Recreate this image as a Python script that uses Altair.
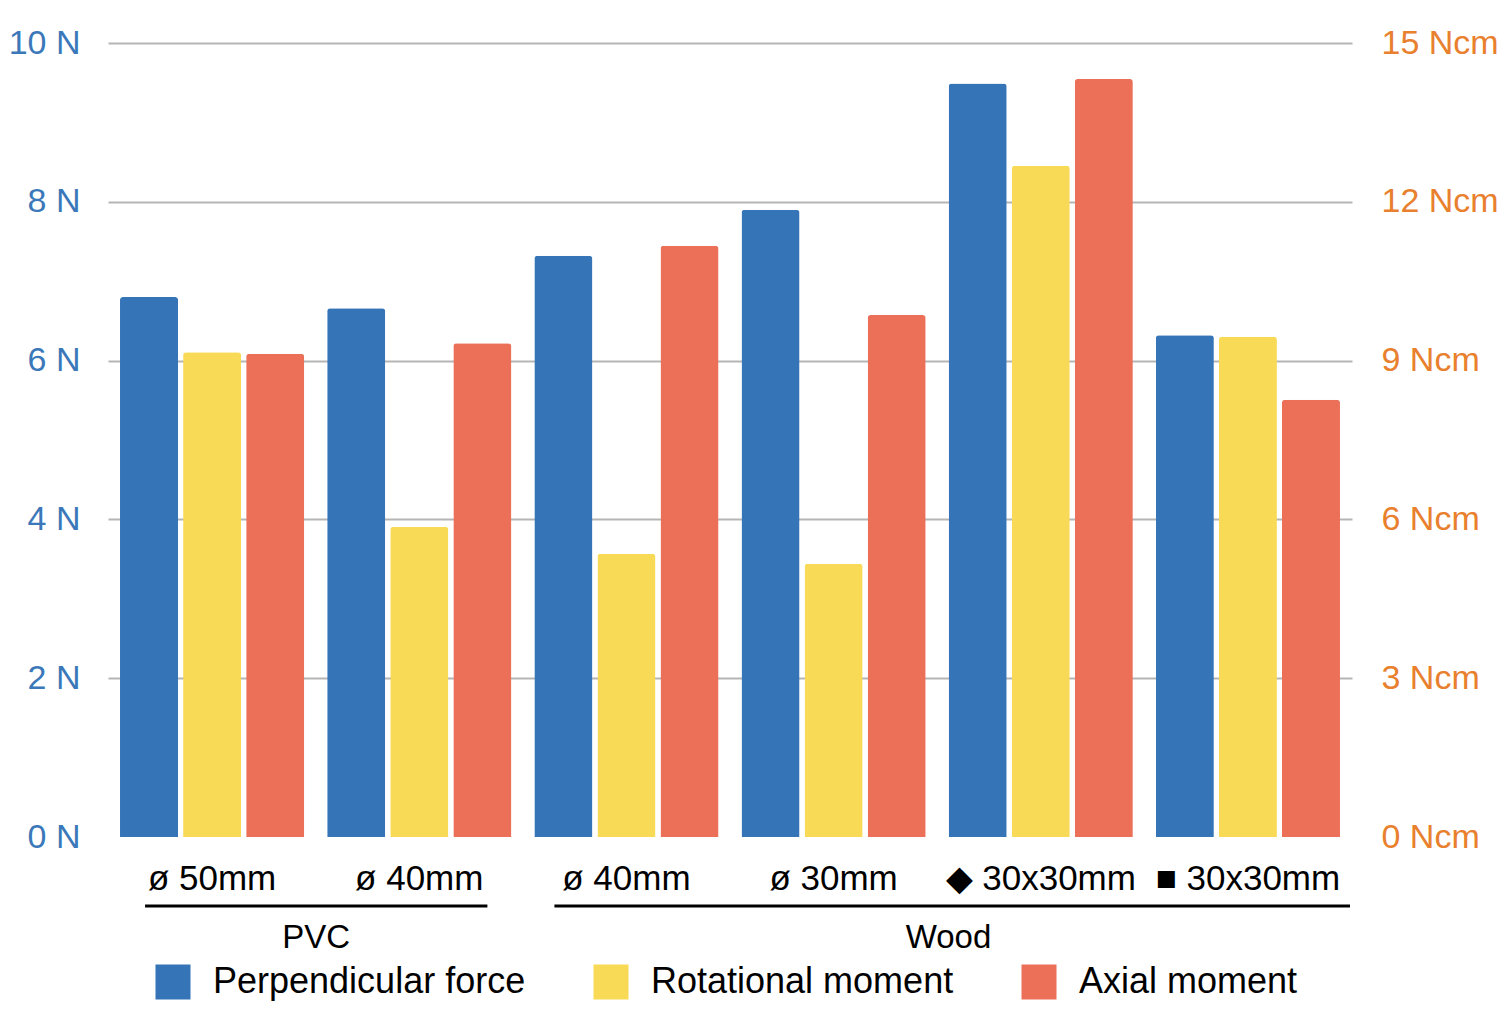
import json
import altair as alt
import pandas as pd

# ---- data ----
categories = ["ø 50mm", "ø 40mm", "ø 40mm", "ø 30mm", "◆ 30x30mm", "■ 30x30mm"]
materials = ["PVC", "PVC", "Wood", "Wood", "Wood", "Wood"]
series = ["Perpendicular force", "Rotational moment", "Axial moment"]
perpendicular_force_N = [6.80, 6.66, 7.32, 7.90, 9.49, 6.32]
rotational_moment_Ncm = [9.16, 5.86, 5.35, 5.16, 12.68, 9.45]
axial_moment_Ncm = [9.13, 9.33, 11.17, 9.86, 14.32, 8.26]
left_ticks = [0, 2, 4, 6, 8, 10]
right_ticks = [0, 3, 6, 9, 12, 15]
group_names = ["PVC", "Wood"]

colors = ["#3474b7", "#f8da56", "#ec6f58"]
left_color = "#3b78b9"
right_color = "#e8802e"
FONT = "Liberation Sans"

keys = [str(i) for i in range(len(categories))]
rows = []
for i, k in enumerate(keys):
    rows.append({"key": k, "series": series[0], "value": perpendicular_force_N[i]})
    rows.append({"key": k, "series": series[1], "value": rotational_moment_Ncm[i]})
    rows.append({"key": k, "series": series[2], "value": axial_moment_Ncm[i]})
df = pd.DataFrame(rows)

label_array = json.dumps(categories, ensure_ascii=False)

W, H = 1244, 794

x_scale = alt.Scale(domain=keys, paddingInner=0.111, paddingOuter=0.058)
x_axis = alt.Axis(
    title=None, domain=False, ticks=False, grid=False,
    labelExpr=f"{label_array}[toNumber(datum.value)]",
    labelFontSize=35, labelColor="black", labelPadding=41,
    labelBaseline="middle", labelAlign="center", labelAngle=0,
    labelOverlap=False, labelLimit=0, labelFont=FONT,
)
xoff_scale = alt.Scale(domain=series, paddingInner=0.08, paddingOuter=0)
color_scale = alt.Scale(domain=series, range=colors)
legend = alt.Legend(
    orient="none", legendX=47, legendY=921, direction="horizontal", title=None,
    symbolType="square", symbolSize=1225, symbolStrokeWidth=0, symbolOpacity=1,
    labelFontSize=36, labelFont=FONT, labelColor="black", labelOffset=22,
    columnPadding=67, padding=0, labelLimit=0,
)

base = alt.Chart(df)

left_bars = base.transform_filter(
    alt.datum.series == series[0]
).mark_bar(cornerRadiusTopLeft=3, cornerRadiusTopRight=3).encode(
    x=alt.X("key:N", scale=x_scale, axis=x_axis, sort=keys),
    xOffset=alt.XOffset("series:N", scale=xoff_scale, sort=series),
    y=alt.Y("value:Q", scale=alt.Scale(domain=[0, 10], nice=False),
            axis=alt.Axis(title=None, orient="left", values=left_ticks,
                          labelExpr="datum.value + ' N'", labelColor=left_color,
                          labelFontSize=34, labelFont=FONT, labelPadding=28,
                          ticks=False, domain=False, grid=True,
                          gridColor="#b5b5b5", gridWidth=2,
                          gridOpacity={"condition": {"test": "datum.value === 0", "value": 0}, "value": 1})),
    color=alt.Color("series:N", scale=color_scale, legend=legend, sort=series),
)

right_bars = base.transform_filter(
    alt.datum.series != series[0]
).mark_bar(cornerRadiusTopLeft=3, cornerRadiusTopRight=3).encode(
    x=alt.X("key:N", scale=x_scale, axis=x_axis, sort=keys),
    xOffset=alt.XOffset("series:N", scale=xoff_scale, sort=series),
    y=alt.Y("value:Q", scale=alt.Scale(domain=[0, 15], nice=False),
            axis=alt.Axis(title=None, orient="right", values=right_ticks,
                          labelExpr="datum.value + ' Ncm'", labelColor=right_color,
                          labelFontSize=34, labelFont=FONT, labelPadding=29,
                          ticks=False, domain=False, grid=False)),
    color=alt.Color("series:N", scale=color_scale, legend=legend, sort=series),
)

# group brackets (PVC / Wood)
first_key = {}
last_key = {}
for k, m in zip(keys, materials):
    first_key.setdefault(m, k)
    last_key[m] = k
gdf = pd.DataFrame({
    "group": group_names,
    "first": [first_key[g] for g in group_names],
    "last": [last_key[g] for g in group_names],
})
# layout constants per group (where the underline starts/ends, label anchor)
bracket_style = {
    "PVC": {"start": 0.136, "end": 0.87, "end_off": 0, "label_dx": 12},
    "Wood": {"start": 0.109, "end": 1.0, "end_off": 10, "label_dx": 230},
}

group_layers = []
for g in group_names:
    st = bracket_style[g]
    gsub = alt.Chart(gdf).transform_filter(alt.datum.group == g)
    rule = gsub.mark_rule(color="black", strokeWidth=3, x2Offset=st["end_off"]).encode(
        x=alt.X("first:N", scale=x_scale, axis=x_axis, bandPosition=st["start"]),
        x2=alt.X2("last:N", bandPosition=st["end"]),
        y=alt.value(H + 69),
    )
    txt = gsub.mark_text(fontSize=33, font=FONT, color="black", dx=st["label_dx"],
                         align="center", baseline="middle").encode(
        x=alt.X("first:N", scale=x_scale, axis=x_axis, bandPosition=1.0),
        y=alt.value(H + 101),
        text="group:N",
    )
    group_layers += [rule, txt]

chart = alt.layer(left_bars, right_bars, *group_layers).resolve_scale(
    y="independent"
).properties(
    width=W, height=H,
    autosize=alt.AutoSizeParams(type="none"),
    padding={"left": 100, "top": 35, "right": 150, "bottom": 165},
).configure(font=FONT, view=alt.ViewConfig(stroke=None))

chart.save("out.html", embed_options={"renderer": "svg", "actions": False})
